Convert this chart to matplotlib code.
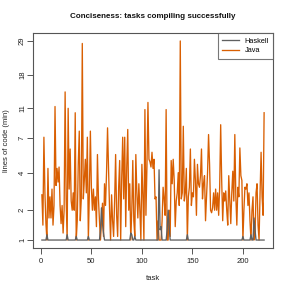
import numpy as np
import matplotlib
matplotlib.use("Agg")
import matplotlib.pyplot as plt

plt.rcParams['font.family'] = ['Liberation Sans', 'DejaVu Sans']

title = "Conciseness: tasks compiling successfully"
x_label = "task"
y_label = "lines of code (min)"
series_names = ["Haskell", "Java"]
y_ticks = [1, 2, 4, 7, 11, 18, 29]
x_ticks = [0, 50, 100, 150, 200]

java = [
    2.7, 1.45, 7.1, 2.8, 1.5, 1.0, 4.3, 1.7, 2.6, 1.7,
    3.0, 1.45, 2.2, 11.3, 3.2, 4.3, 3.4, 4.4, 2.2, 1.5,
    2.2, 1.2, 2.0, 14.0, 2.5, 1.0, 11.0, 3.0, 5.9, 2.4,
    2.0, 2.8, 2.0, 10.3, 1.0, 1.6, 4.6, 7.8, 1.6, 2.5,
    28.0, 2.5, 3.5, 5.0, 2.8, 7.1, 1.0, 2.8, 7.8, 3.1,
    2.0, 3.0, 2.0, 2.6, 1.4, 5.4, 2.5, 1.6, 1.0, 1.6,
    2.3, 1.1, 3.3, 2.2, 4.0, 8.2, 4.4, 2.0, 1.0, 2.7,
    1.6, 1.1, 2.4, 5.4, 1.8, 1.1, 3.1, 4.9, 1.0, 3.6,
    7.1, 2.5, 7.1, 1.4, 4.4, 8.0, 2.0, 3.3, 1.0, 2.0,
    4.9, 1.6, 1.1, 5.4, 2.8, 1.7, 3.3, 2.0, 1.0, 4.6,
    2.7, 1.0, 10.8, 1.8, 4.4, 12.0, 5.0, 4.8, 4.4, 5.6,
    4.3, 5.0, 2.5, 2.6, 1.0, 1.6, 1.0, 1.0, 1.0, 1.6,
    3.1, 2.5, 1.8, 10.8, 1.0, 1.0, 2.0, 1.1, 4.9, 3.3,
    5.0, 3.5, 1.4, 2.4, 2.8, 4.0, 2.2, 29.0, 2.5, 2.8,
    8.4, 2.4, 2.8, 4.3, 1.0, 2.6, 3.1, 5.9, 2.2, 2.8,
    2.6, 5.0, 3.5, 1.8, 4.6, 3.3, 3.1, 3.8, 5.9, 2.5,
    3.3, 3.8, 1.6, 2.6, 4.0, 7.4, 4.6, 2.0, 1.9, 2.1,
    2.8, 2.0, 3.0, 2.0, 2.8, 1.8, 3.1, 8.6, 3.5, 1.6,
    2.8, 2.4, 2.9, 2.0, 1.45, 3.8, 2.4, 1.5, 2.8, 4.1,
    2.4, 7.4, 2.6, 1.45, 3.1, 2.6, 6.0, 3.8, 3.5, 1.0,
    2.0, 3.1, 3.0, 3.3, 2.2, 2.8, 1.6, 1.0, 2.0, 2.6,
    1.0, 1.1, 2.8, 3.3, 1.45, 1.0, 2.8, 5.6, 2.6, 1.8,
    10.3,
]

haskell_spike_tasks = [6, 26, 35, 47, 59, 60, 61, 62, 89, 90, 93,
                       117, 118, 119, 125, 126, 127, 145, 200, 208, 211, 212]
haskell_spike_values = [1.15, 1.15, 1.1, 1.1, 1.3, 2.1, 1.5, 1.2, 1.2, 1.15, 1.1,
                        4.2, 1.3, 1.4, 1.3, 2.0, 1.4, 1.15, 1.1, 1.15, 1.7, 1.3]

n = len(java)
tasks = np.arange(1, n + 1)
haskell = np.ones(n)
for t, v in zip(haskell_spike_tasks, haskell_spike_values):
    haskell[t - 1] = v

fig = plt.figure(figsize=(2.91, 2.91), dpi=100)
ax = fig.add_axes([33 / 291, 1 - 248 / 291, 240 / 291, 215 / 291])

fwd = lambda y: np.log1p(np.clip(y, -0.999, None))
inv = lambda y: np.expm1(y)
ax.set_yscale('function', functions=(fwd, inv))

java_color = '#d95f02'
hask_color = '#606060'
ax.plot(tasks, java, color=java_color, lw=0.95, label=series_names[1], zorder=2)
ax.plot(tasks, haskell, color=hask_color, lw=0.95, label=series_names[0], zorder=3)

xr = n - 1
ax.set_xlim(1 - 0.04 * xr, n + 0.04 * xr)
lo, hi = np.log1p(1), np.log1p(29)
ext = 0.04 * (hi - lo)
ax.set_ylim(np.expm1(lo - ext), np.expm1(hi + ext))

ax.set_yticks(y_ticks)
ax.set_yticklabels([str(v) for v in y_ticks], rotation=90, va='center')
ax.set_xticks(x_ticks)
ax.set_xticklabels([str(v) for v in x_ticks])
ax.yaxis.set_minor_locator(matplotlib.ticker.NullLocator())
ax.xaxis.set_minor_locator(matplotlib.ticker.NullLocator())

for sp in ax.spines.values():
    sp.set_color('#555555')
    sp.set_linewidth(0.8)
ax.tick_params(axis='both', length=4, width=0.7, color='#555555',
               labelsize=5.5, labelcolor='#222222')
ax.tick_params(axis='x', pad=3.5)
ax.tick_params(axis='y', pad=1.0)

ax.set_title(title, fontsize=5.8, fontweight='bold', pad=11, color='#111111')
ax.set_xlabel(x_label, fontsize=5.5, labelpad=7, color='#222222')
ax.set_ylabel(y_label, fontsize=5.5, labelpad=6.5, color='#222222')

handles, labels = ax.get_legend_handles_labels()
order = [1, 0]
leg = ax.legend([handles[i] for i in order], [labels[i] for i in order],
                loc='upper right', fontsize=5.3, frameon=True, fancybox=False,
                borderaxespad=0, handlelength=2.2, borderpad=0.6,
                labelspacing=0.35, handletextpad=0.8)
leg.get_frame().set_edgecolor('#555555')
leg.get_frame().set_linewidth(0.8)

fig.savefig('out.png', dpi=100)
